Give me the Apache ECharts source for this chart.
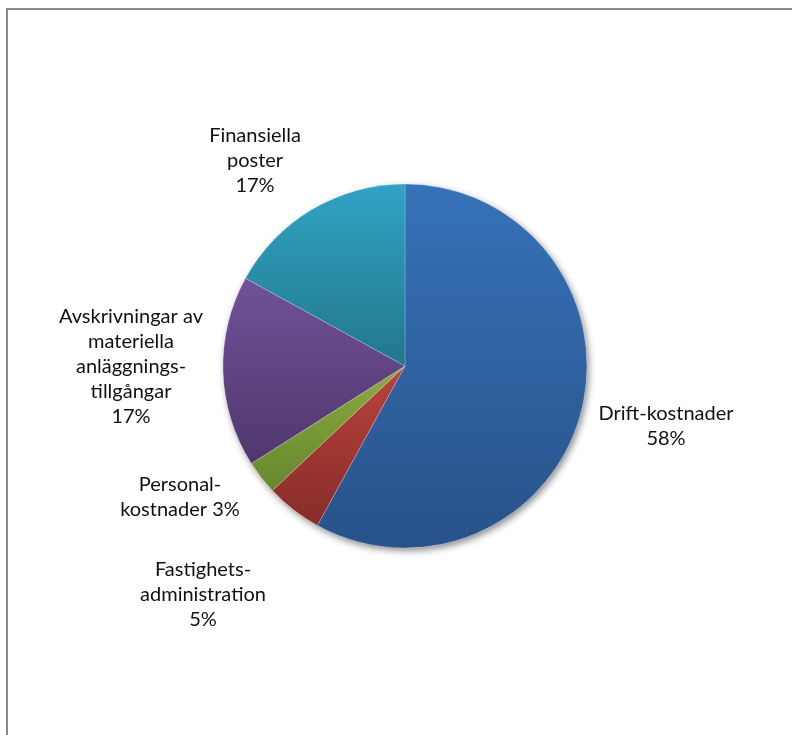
<!DOCTYPE html>
<html lang="sv">
<head>
    <meta charset="UTF-8">
    <title>Kostnader</title>
    <script src="https://cdn.jsdelivr.net/npm/echarts@6/dist/echarts.min.js"></script>
    <style>
        html, body { margin: 0; padding: 0; background: #fff; }
        #main { width: 792px; height: 735px; }
    </style>
</head>
<body>
<div id="main"></div>
<script>
    // data
    var categories = ['Drift-kostnader', 'Fastighets-\nadministration', 'Personal-\nkostnader', 'Avskrivningar av\nmateriella\nanläggnings-\ntillgångar', 'Finansiella\nposter'];
    var values = [58, 5, 3, 17, 17];
    var percentLabels = ['58%', '5%', '3%', '17%', '17%'];

    // gradients, top colour / bottom colour per slice
    var topColors = ['#3672b8', '#bb423d', '#8aad3f', '#715199', '#31a3c4'];
    var bottomColors = ['#28528a', '#862c29', '#66862e', '#4f376d', '#22778c'];
    // label centres (pixels), Excel's "best fit" placement
    var labelPos = [[666, 426], [203, 595], [180, 497], [131, 367], [255, 161]];
    var labelJoin = ['\n', '\n', ' ', '\n', '\n'];

    var pieData = [];
    for (var i = 0; i < values.length; i++) {
        pieData.push({
            name: categories[i],
            value: values[i],
            itemStyle: {
                color: new echarts.graphic.LinearGradient(0, 0, 0, 1, [
                    {offset: 0, color: topColors[i]},
                    {offset: 1, color: bottomColors[i]}
                ])
            }
        });
    }

    var myChart = echarts.init(document.getElementById('main'));
    var option = {
        animation: false,
        graphic: [{
            type: 'rect',
            shape: {x: 7, y: 9, width: 820, height: 780},
            style: {fill: 'none', stroke: '#8a8a8a', lineWidth: 2},
            silent: true
        }],
        series: [{
            // shadow disc under the pie
            type: 'pie',
            silent: true,
            center: [405, 366],
            radius: 182,
            z: 1,
            label: {show: false},
            labelLine: {show: false},
            data: [{value: 1, itemStyle: {
                color: '#fff',
                shadowBlur: 7,
                shadowColor: 'rgba(0,0,0,0.45)',
                shadowOffsetX: 2,
                shadowOffsetY: 3
            }}]
        }, {
            type: 'pie',
            center: [405, 366],
            radius: 182,
            startAngle: 90,
            clockwise: true,
            z: 2,
            itemStyle: {
                borderColor: 'rgba(255,255,255,0.35)',
                borderWidth: 0.6
            },
            label: {
                show: true,
                position: 'outside',
                formatter: function (p) {
                    return p.name + labelJoin[p.dataIndex] + percentLabels[p.dataIndex];
                },
                fontFamily: 'Lato',
                fontSize: 20,
                lineHeight: 25,
                color: '#111',
                align: 'center'
            },
            labelLine: {show: false},
            labelLayout: function (params) {
                var pos = labelPos[params.dataIndex];
                return {
                    x: pos[0],
                    y: pos[1],
                    align: 'center',
                    verticalAlign: 'middle'
                };
            },
            data: pieData
        }]
    };
    myChart.setOption(option);
</script>
</body>
</html>
